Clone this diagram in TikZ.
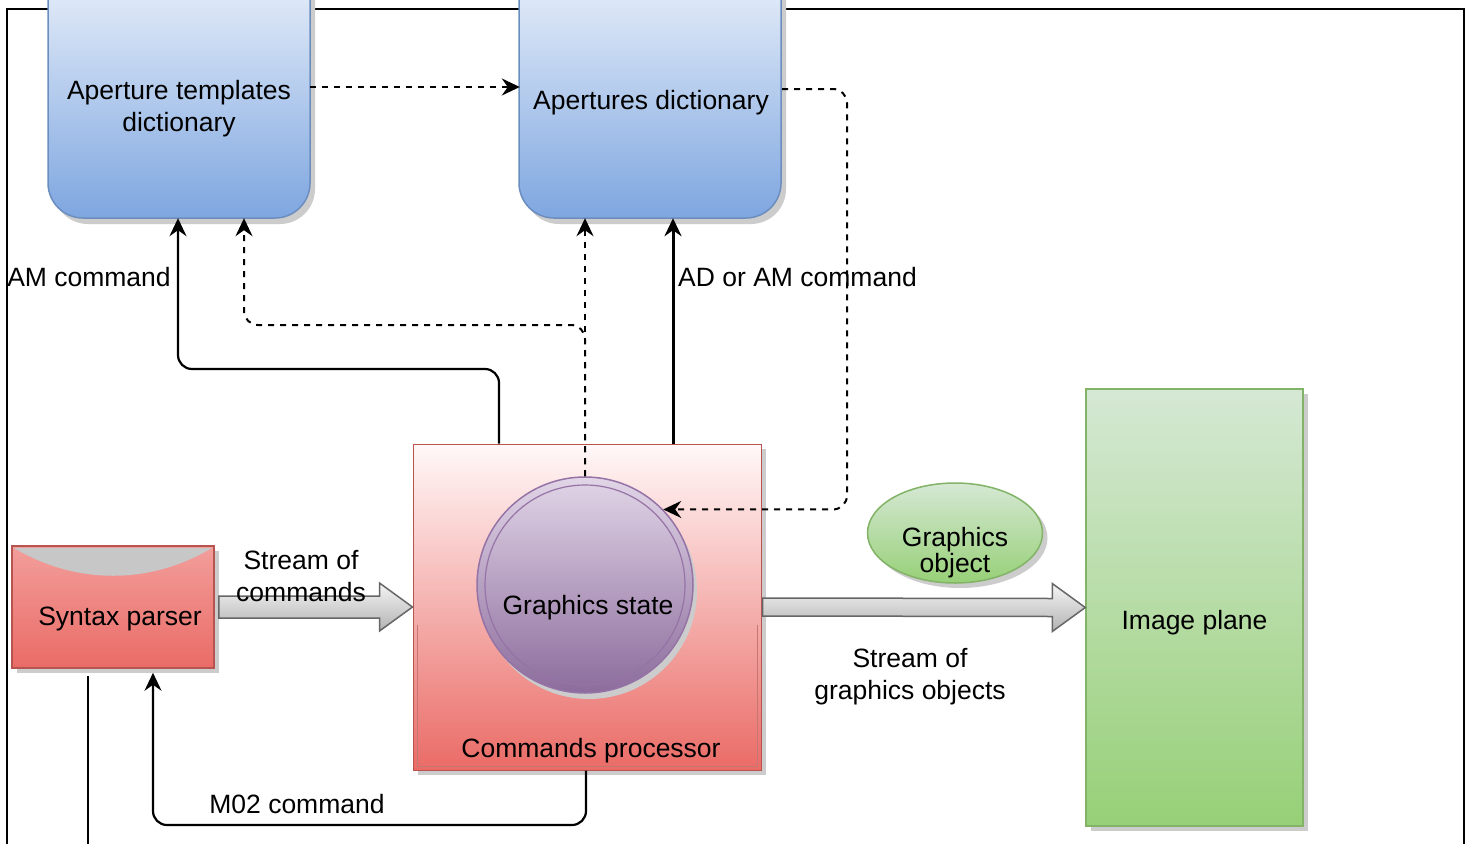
\documentclass[tikz,border=0pt]{standalone}
\usepackage{fontspec}
\setmainfont{Liberation Sans}
\usetikzlibrary{arrows.meta,shapes.geometric,shadows,calc}
\definecolor{bluebot}{HTML}{7EA6E0}
\definecolor{bluestroke}{HTML}{6C8EBF}
\definecolor{redstroke}{HTML}{B85450}
\definecolor{redbot}{HTML}{EA6B66}
\definecolor{redtop}{HTML}{FFF8F8}
\definecolor{parsertop}{HTML}{F29E9B}
\definecolor{purptop}{HTML}{E1D5E7}
\definecolor{purpbot}{HTML}{8C6C9C}
\definecolor{purpstroke}{HTML}{9673A6}
\definecolor{greentop}{HTML}{D5E8D4}
\definecolor{greenbot}{HTML}{97D077}
\definecolor{greenstroke}{HTML}{82B366}
\begin{document}
\begin{tikzpicture}[x=1pt,y=-1pt,
  font=\fontsize{26.5}{32}\selectfont,
  tip/.style={-{Stealth[length=18pt,width=17pt,inset=6pt]}},
  conn/.style={draw=black,line width=2.2pt,rounded corners=14pt,tip},
  dconn/.style={draw=black,line width=2pt,dash pattern=on 6pt off 6pt,rounded corners=14pt,tip},
  plain/.style={inner sep=0pt,align=center},
  shad/.style={drop shadow={shadow xshift=5pt,shadow yshift=-5pt,opacity=1,fill=black!20}},
  blockarrow/.style={draw=black!60,line width=1.5pt,top color=black!4,bottom color=black!30,line join=miter},
]
\useasboundingbox (0,0) rectangle (1474,843);
\clip (0,0) rectangle (1474,843);
\fill[white] (0,0) rectangle (1474,843);
% frame
\draw[line width=2.5pt] (7,880) -- (7,9) -- (1464,9) -- (1464,880);

% aperture templates dictionary
\fill[black!20,rounded corners=35pt] (53,-80) -- (53,224) -- (315,224) -- (315,-80) -- cycle;
\shade[top color=white,bottom color=bluebot,rounded corners=35pt] (48,-80) -- (48,218) -- (310,218) -- (310,-80) -- cycle;
\draw[bluestroke,line width=1.5pt,rounded corners=35pt] (48,-80) -- (48,218) -- (310,218) -- (310,-80);
\node[plain,minimum width=262pt,minimum height=218pt] (atd) at (179,109) {Aperture templates\\dictionary};

% apertures dictionary
\fill[black!20,rounded corners=35pt] (524,-80) -- (524,224) -- (786,224) -- (786,-80) -- cycle;
\shade[top color=white,bottom color=bluebot,rounded corners=35pt] (519,-80) -- (519,218) -- (781,218) -- (781,-80) -- cycle;
\draw[bluestroke,line width=1.5pt,rounded corners=35pt] (519,-80) -- (519,218) -- (781,218) -- (781,-80);
\node[plain,minimum width=262pt,minimum height=230pt] (ad) at (651,103) {Apertures dictionary};

% commands processor
\node[draw=redstroke,line width=1pt,top color=redtop,bottom color=redbot,
      minimum width=348pt,minimum height=326pt,inner sep=0pt,shad,
      label={[anchor=south,inner sep=7pt,xshift=4pt]south:Commands processor}] (cp) at (587,607) {};
\draw[redstroke!80,line width=1pt] (417,625) -- (417,766) -- (757,766) -- (757,625);

% graphics state
\node[circle,minimum size=216pt,inner sep=0pt,draw=purpstroke,line width=1.5pt,
      top color=purptop,bottom color=purpbot,
      drop shadow={shadow xshift=4pt,shadow yshift=-6pt,opacity=1,fill=black!20},
      label={[xshift=3pt,yshift=-23pt]center:Graphics state}] (gs) at (585,585) {};
\draw[purpstroke,line width=1.2pt] (gs.center) circle[radius=100pt];

% syntax parser
\node[draw=redstroke,line width=1.5pt,top color=parsertop,bottom color=redbot,
      minimum width=202pt,minimum height=122pt,inner sep=0pt,shad] (sp) at (113,607) {};
\fill[black!22] (14,548) -- (212,548) .. controls (150,585) and (76,585) .. (14,548) -- cycle;
\node[plain] (spt) at (120,619) {Syntax parser};

% image plane
\node[draw=greenstroke,line width=1.5pt,top color=greentop,bottom color=greenbot,
      minimum width=217pt,minimum height=437pt,inner sep=0pt,shad,
      label={[yshift=-15pt]center:Image plane}] (ip) at (1194.5,607.5) {};

% graphics object
\node[ellipse,draw=greenstroke,line width=1.5pt,top color=greentop,bottom color=greenbot,
      minimum width=175pt,minimum height=100pt,inner sep=0pt,shad,
      label={[yshift=-20pt,align=center,font=\fontsize{26.5}{26}\selectfont]center:Graphics\\object}] (go) at (955,533) {};

% block arrows
\draw[blockarrow] ($(sp.east)+(4,-11)$) -- ($(cp.west)+(-33,-11)$) -- ($(cp.west)+(-33,-24)$) -- (cp.west)
   -- ($(cp.west)+(-33,24)$) -- ($(cp.west)+(-33,11)$) -- ($(sp.east)+(4,11)$) -- cycle;
\draw[blockarrow] ($(cp.east)+(1,-9)$) -- ($(ip.west)+(-33,-9)$) -- ($(ip.west)+(-33,-24)$) -- (ip.west)
   -- ($(ip.west)+(-33,24)$) -- ($(ip.west)+(-33,9)$) -- ($(cp.east)+(1,9)$) -- cycle;

% connectors
\draw[conn] (499,0 |- cp.north) -- (499,369) -- (178,369) -- (178,0 |- atd.south);
\draw[conn,line width=3pt] (673,0 |- cp.north) -- (673,0 |- ad.south);
\draw[dconn] (gs.north) -- (gs.north |- ad.south);
\draw[dconn] (gs.north) -- (585,325) -- (244,325) -- (244,0 |- atd.south);
\draw[dconn] (atd.east |- 0,87) -- (ad.west |- 0,87);
\draw[dconn] (ad.east |- 0,89) -- (847,89) -- (847,0 |- gs.44) -- (gs.44);
\draw[conn,shorten >=4pt] (586,0 |- cp.south) -- (586,825) -- (153,825) -- (153,0 |- sp.south);
\coordinate (down) at (88,880);
\draw[line width=2.5pt,shorten <=7pt] (88,0 |- sp.south) -- (down);

% labels
\node[plain] (lam) at (89,277) {AM command};
\node[plain,anchor=west] (lad) at (678,277) {AD or AM command};
\node[plain] (lsc) at (301,576) {Stream of\\commands};
\node[plain] (lsg) at (910,677) {Stream of\\graphics objects};
\node[plain] (lm02) at (297,804) {M02 command};
\end{tikzpicture}
\end{document}
